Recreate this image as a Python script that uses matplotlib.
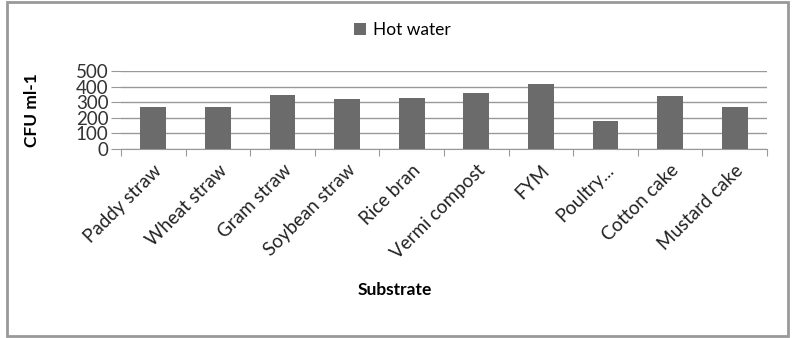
import matplotlib.pyplot as plt
from matplotlib.patches import Rectangle

plt.rcParams['font.family'] = ['Lato', 'DejaVu Sans']

substrates = ["Paddy straw", "Wheat straw", "Gram straw", "Soybean straw", "Rice bran",
              "Vermi compost", "FYM", "Poultry...", "Cotton cake", "Mustard cake"]
hot_water = [268, 268, 347, 322, 328, 360, 416, 180, 341, 268]
yticks = [0, 100, 200, 300, 400, 500]

fig = plt.figure(figsize=(7.94, 3.38), dpi=100)
ax = fig.add_axes([121 / 794, 1 - 149 / 338, 646 / 794, 78 / 338])

x = list(range(len(substrates)))
ax.bar(x, hot_water, width=0.4, color="#6b6b6b", label="Hot water", zorder=3)

ax.set_xlim(-0.5, len(substrates) - 0.5)
ax.set_ylim(0, 500)
ax.set_yticks(yticks)
ax.set_yticklabels([str(v) for v in yticks], fontsize=13.5, color="#333333")
ax.yaxis.grid(True, color="#999999", linewidth=1, zorder=0)
ax.tick_params(axis="y", length=7, color="#999999", pad=2)

ax.set_xticks([i - 0.5 for i in range(len(substrates) + 1)])
ax.set_xticklabels([])
ax.set_xticks(x, minor=True)
ax.set_xticklabels(substrates, minor=True, rotation=45, ha="right",
                   rotation_mode="anchor", fontsize=13.5, color="#222222")
ax.tick_params(axis="x", which="major", length=5, color="#999999")
ax.tick_params(axis="x", which="minor", length=0, pad=9)

for s in ["top", "right", "left"]:
    ax.spines[s].set_visible(False)
ax.spines["bottom"].set_color("#999999")

ax.set_ylabel("CFU ml-1", fontsize=12.5, fontweight="bold")
ax.yaxis.set_label_coords(-0.125, 0.5)
fig.text(395 / 794, 1 - 290 / 338, "Substrate", fontsize=12.5, fontweight="bold",
         ha="center", va="center")

fig.legend(loc="center", bbox_to_anchor=(402 / 794, 1 - 30 / 338), frameon=False,
           fontsize=12.5, handlelength=0.7, handleheight=0.7, handletextpad=0.4)

fig.patches.append(Rectangle((7 / 794, 2 / 338), 781 / 794, 334 / 338,
                             transform=fig.transFigure, fill=False,
                             edgecolor="#999999", linewidth=2))

fig.savefig("out.png", dpi=100)
